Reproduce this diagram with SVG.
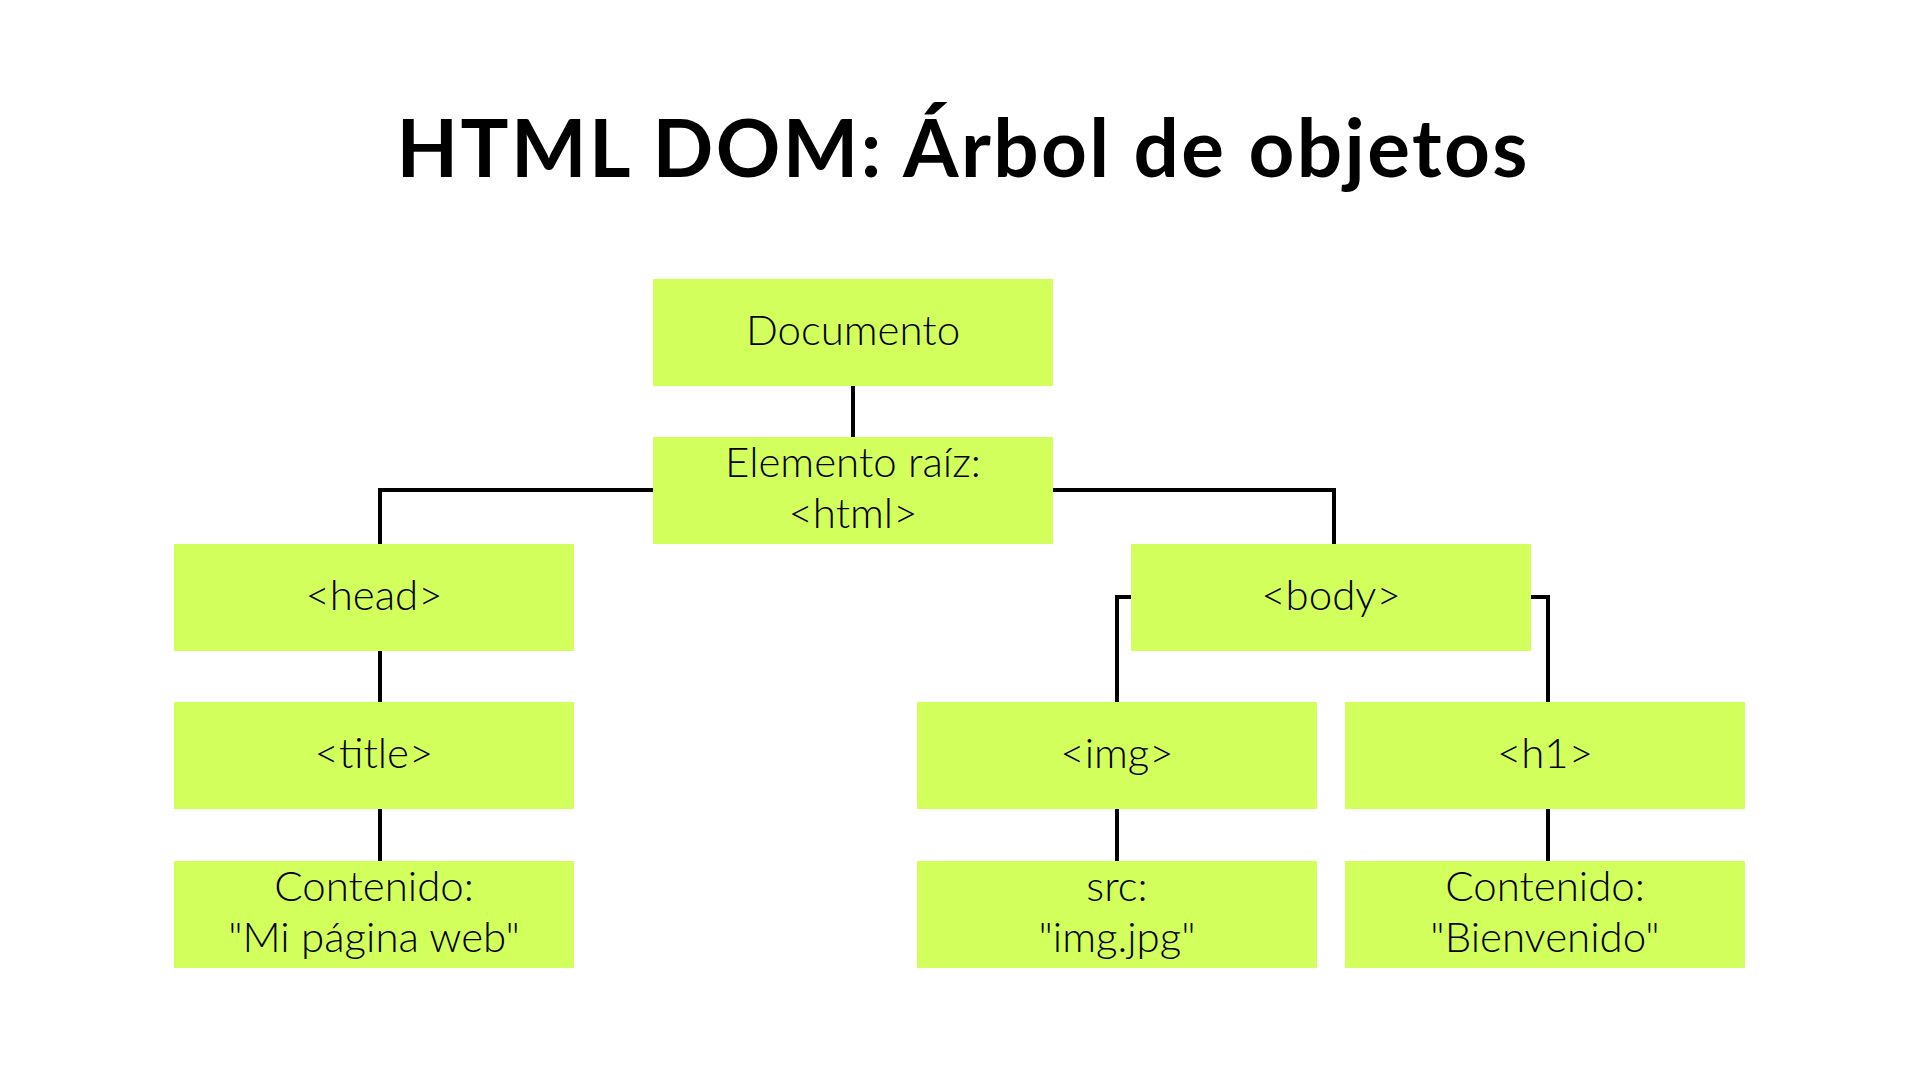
<svg xmlns="http://www.w3.org/2000/svg" width="1920" height="1080" viewBox="0 0 1920 1080">
  <style>
    .box { fill: #D3FF5C; }
    .lbl { font-family: "Lato", "Liberation Sans", sans-serif; font-size: 42px; font-weight: 300; fill: #000; text-anchor: middle; }
    .title { font-family: "Lato", "Liberation Sans", sans-serif; font-size: 80px; font-weight: 700; fill: #000; text-anchor: middle; }
    .conn { fill: none; stroke: #000; stroke-width: 4; stroke-linejoin: miter; }
  </style>
  <rect width="1920" height="1080" fill="#FFFFFF"/>
  <text class="title" x="962" y="177" textLength="1131" lengthAdjust="spacing">HTML DOM: Árbol de objetos</text>

  <g id="connectors">
    <path class="conn" d="M853 386 V437"/>
    <path class="conn" d="M653 490 H380 V544"/>
    <path class="conn" d="M1053 490 H1334 V544"/>
    <path class="conn" d="M380 650 V702"/>
    <path class="conn" d="M380 808 V861"/>
    <path class="conn" d="M1131 597 H1117 V702"/>
    <path class="conn" d="M1531 597 H1548 V702"/>
    <path class="conn" d="M1117 808 V861"/>
    <path class="conn" d="M1548 808 V861"/>
  </g>

  <g id="documento">
    <rect class="box" x="653" y="279" width="400" height="107"/>
    <text class="lbl" x="853" y="345">Documento</text>
  </g>
  <g id="html">
    <rect class="box" x="653" y="437" width="400" height="107"/>
    <text class="lbl" x="853" y="477">Elemento raíz:</text>
    <text class="lbl" x="853" y="528">&lt;html&gt;</text>
  </g>
  <g id="head">
    <rect class="box" x="174" y="544" width="400" height="107"/>
    <text class="lbl" x="374" y="610">&lt;head&gt;</text>
  </g>
  <g id="body">
    <rect class="box" x="1131" y="544" width="400" height="107"/>
    <text class="lbl" x="1331" y="610">&lt;body&gt;</text>
  </g>
  <g id="title-node">
    <rect class="box" x="174" y="702" width="400" height="107"/>
    <text class="lbl" x="374" y="768">&lt;title&gt;</text>
  </g>
  <g id="img">
    <rect class="box" x="917" y="702" width="400" height="107"/>
    <text class="lbl" x="1117" y="768">&lt;img&gt;</text>
  </g>
  <g id="h1">
    <rect class="box" x="1345" y="702" width="400" height="107"/>
    <text class="lbl" x="1545" y="768">&lt;h1&gt;</text>
  </g>
  <g id="title-content">
    <rect class="box" x="174" y="861" width="400" height="107"/>
    <text class="lbl" x="374" y="901">Contenido:</text>
    <text class="lbl" x="374" y="952">"Mi página web"</text>
  </g>
  <g id="img-src">
    <rect class="box" x="917" y="861" width="400" height="107"/>
    <text class="lbl" x="1117" y="901">src:</text>
    <text class="lbl" x="1117" y="952">"img.jpg"</text>
  </g>
  <g id="h1-content">
    <rect class="box" x="1345" y="861" width="400" height="107"/>
    <text class="lbl" x="1545" y="901">Contenido:</text>
    <text class="lbl" x="1545" y="952">"Bienvenido"</text>
  </g>
</svg>
